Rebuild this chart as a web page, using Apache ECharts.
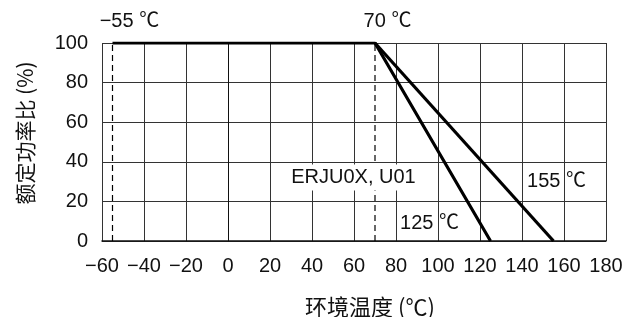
<!DOCTYPE html>
<html>
<head>
<meta charset="utf-8">
<script src="https://cdn.jsdelivr.net/npm/echarts@6/dist/echarts.min.js"></script>
<style>
  html, body { margin: 0; padding: 0; background: #fff; }
  #chart { width: 637px; height: 317px; }
</style>
</head>
<body>
<div id="chart"></div>
<script>
// 额定功率比 vs 环境温度
var xTicks = [-60, -40, -20, 0, 20, 40, 60, 80, 100, 120, 140, 160, 180];
var yTicks = [0, 20, 40, 60, 80, 100];

// derating curves (temperature, %)
var curve125 = [[-55, 100], [70, 100], [125, 0]];
var curve155 = [[70, 100], [155, 0]];

// dashed guide lines
var guideMin = [[-55, 0], [-55, 100]];
var guideKnee = [[70, 0], [70, 100]];

// annotation texts and where they sit (data units)
var noteText = ['−55 ℃', '70 ℃', '125 ℃', '155 ℃'];
var noteX = [-46.7, 76.2, 96.2, 156.7];
var noteY = [110.6, 110.6, 8.6, 29.8];

var modelName = 'ERJU0X, U01';
var modelPos = [60, 31.8];

var FONT = '"Liberation Sans", Arial, "Noto Sans CJK SC", sans-serif';
var TXT = '#111';
var chart = echarts.init(document.getElementById('chart'));

var notes = noteText.map(function (t, i) {
  return { value: [noteX[i], noteY[i]], name: t };
});

function noteLabel(extra) {
  var l = {
    show: true,
    position: [0, 0],
    align: 'center',
    verticalAlign: 'middle',
    formatter: function (p) { return p.name; },
    color: TXT,
    fontSize: 20,
    fontFamily: FONT,
    textBorderWidth: 0,
    textShadowBlur: 0
  };
  for (var k in extra) l[k] = extra[k];
  return l;
}

var option = {
  animation: false,
  backgroundColor: '#fff',
  grid: { left: 102, right: 31, top: 43, bottom: 76 },
  xAxis: {
    type: 'value',
    min: -60,
    max: 180,
    interval: 20,
    axisLine: { show: true, lineStyle: { color: '#111', width: 1.5 } },
    axisTick: { show: false },
    axisLabel: {
      margin: 15,
      color: TXT,
      fontSize: 20,
      fontFamily: FONT,
      formatter: function (v) { return v < 0 ? '−' + Math.abs(v) : '' + v; }
    },
    splitLine: { show: true, lineStyle: { color: '#333', width: 1 } }
  },
  yAxis: {
    type: 'value',
    min: 0,
    max: 100,
    interval: 20,
    axisLine: { show: true, lineStyle: { color: '#111', width: 1 } },
    axisTick: { show: false },
    axisLabel: { margin: 14, color: TXT, fontSize: 20, fontFamily: FONT },
    splitLine: { show: true, lineStyle: { color: '#333', width: 1 } }
  },
  series: [
    {
      type: 'line', data: guideMin, symbol: 'none', z: 3,
      lineStyle: { color: '#000', width: 1.2, type: [6, 4] }
    },
    {
      type: 'line', data: guideKnee, symbol: 'none', z: 3,
      lineStyle: { color: '#000', width: 1.2, type: [6, 4] }
    },
    {
      type: 'line', data: curve125, symbol: 'none', z: 5,
      lineStyle: { color: '#000', width: 3.2 }
    },
    {
      type: 'line', data: curve155, symbol: 'none', z: 5,
      lineStyle: { color: '#000', width: 3.2 }
    },
    {
      type: 'scatter',
      data: notes,
      symbolSize: 1,
      itemStyle: { color: 'rgba(0,0,0,0)', opacity: 1 },
      clip: false,
      silent: true,
      z: 6,
      label: noteLabel({})
    },
    {
      type: 'scatter',
      data: [{ value: modelPos, name: modelName }],
      symbolSize: 1,
      itemStyle: { color: 'rgba(0,0,0,0)', opacity: 1 },
      silent: true,
      z: 4,
      label: noteLabel({ backgroundColor: '#fff', padding: [3, 20, 3, 20] })
    }
  ],
  graphic: [
    {
      type: 'text',
      x: 25, y: 133,
      rotation: Math.PI / 2,
      style: {
        text: '额定功率比 (%)',
        font: '21px "Noto Sans CJK SC", sans-serif',
        fill: TXT,
        textAlign: 'center',
        textVerticalAlign: 'middle'
      }
    },
    {
      type: 'text',
      x: 370, y: 307,
      style: {
        text: '环境温度 (℃)',
        font: '22px "Noto Sans CJK SC", sans-serif',
        fill: TXT,
        textAlign: 'center',
        textVerticalAlign: 'middle'
      }
    }
  ]
};

chart.setOption(option);
</script>
</body>
</html>
